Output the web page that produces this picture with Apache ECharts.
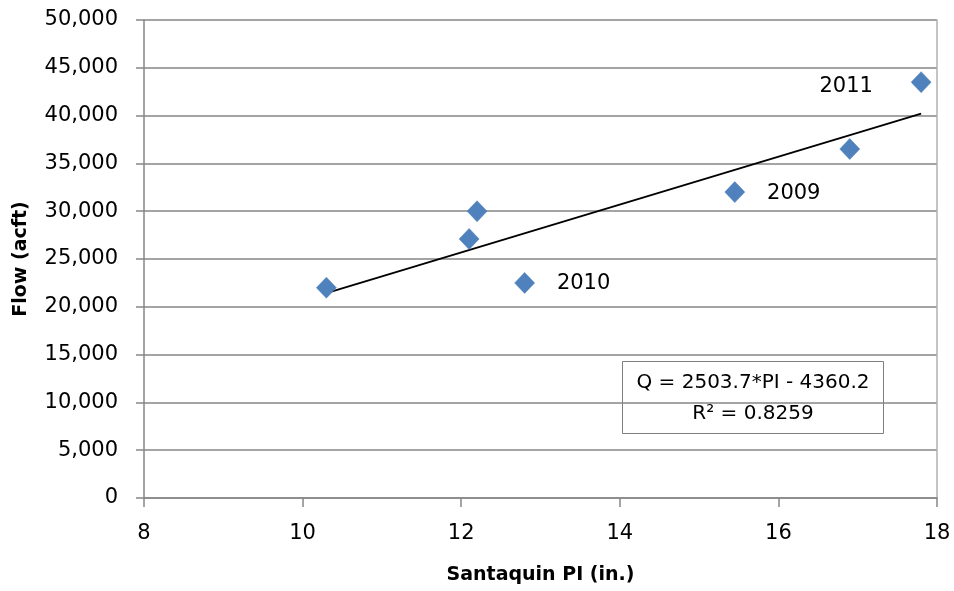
<!DOCTYPE html>
<html>
<head>
<meta charset="utf-8">
<script src="https://cdn.jsdelivr.net/npm/echarts@6/dist/echarts.min.js"></script>
<style>
  html, body { margin: 0; padding: 0; background: #fff; }
  #chart { width: 954px; height: 591px; }
</style>
</head>
<body>
<div id="chart"></div>
<script>
// Observed precipitation index (in.) and flow (acre-feet)
const precipIndex = [10.3, 12.1, 12.2, 12.8, 15.45, 16.9, 17.8];
const flowAcft   = [22000, 27100, 30000, 22500, 32000, 36500, 43500];
const yearLabels = ['', '', '', '2010', '2009', '', '2011'];

// Linear fit reported in the box
const fitSlope = 2503.7;
const fitIntercept = -4360.2;
const fitR2 = 0.8259;

const xTicks = [8, 10, 12, 14, 16, 18];
const yTicks = [0, 5000, 10000, 15000, 20000, 25000, 30000, 35000, 40000, 45000, 50000];

const FONT = 'DejaVu Sans';
const GRAY = '#868686';

const xLo = Math.min(...precipIndex);
const xHi = Math.max(...precipIndex);
const fitLine = [
  [xLo, fitSlope * xLo + fitIntercept],
  [xHi, fitSlope * xHi + fitIntercept]
];

const labelPos = { '2010': 'right', '2009': 'right', '2011': 'left' };
const labelDist = { '2010': 22, '2009': 22, '2011': 38 };

const points = precipIndex.map((x, i) => {
  const yr = yearLabels[i];
  const item = { value: [x, flowAcft[i]] };
  if (yr) {
    item.label = {
      show: true,
      formatter: yr,
      position: labelPos[yr],
      distance: labelDist[yr],
      offset: yr === '2011' ? [0, 4] : [0, 1],
      fontFamily: FONT,
      fontSize: 21,
      color: '#000'
    };
  }
  return item;
});

const chart = echarts.init(document.getElementById('chart'));
chart.setOption({
  animation: false,
  backgroundColor: '#fff',
  grid: { left: 144, right: 17, top: 20, bottom: 93, containLabel: false },
  xAxis: {
    type: 'value',
    min: xTicks[0],
    max: xTicks[xTicks.length - 1],
    interval: 2,
    name: 'Santaquin PI (in.)',
    nameLocation: 'middle',
    nameGap: 68,
    nameTextStyle: { fontFamily: FONT, fontSize: 19, fontWeight: 'bold', color: '#000' },
    axisLine: { show: true, onZero: false, lineStyle: { color: GRAY, width: 1.5 } },
    axisTick: { show: true, inside: false, length: 9, lineStyle: { color: GRAY, width: 1.5 } },
    axisLabel: { fontFamily: FONT, fontSize: 21, color: '#000', margin: 25 },
    splitLine: { show: false }
  },
  yAxis: [{
    type: 'value',
    min: yTicks[0],
    max: yTicks[yTicks.length - 1],
    interval: 5000,
    name: 'Flow (acft)',
    nameLocation: 'middle',
    nameGap: 113,
    nameTextStyle: { fontFamily: FONT, fontSize: 19, fontWeight: 'bold', color: '#000' },
    axisLine: { show: true, lineStyle: { color: GRAY, width: 1.5 } },
    axisTick: { show: true, length: 8, lineStyle: { color: GRAY, width: 1.5 } },
    axisLabel: {
      fontFamily: FONT, fontSize: 21, color: '#000', margin: 26,
      formatter: v => v.toLocaleString('en-US')
    },
    splitLine: { show: true, lineStyle: { color: GRAY, width: 1.5 } }
  }, {
    type: 'value',
    position: 'right',
    min: yTicks[0],
    max: yTicks[yTicks.length - 1],
    interval: 5000,
    axisLine: { show: true, lineStyle: { color: '#b0b0b0', width: 1.5 } },
    axisTick: { show: false },
    axisLabel: { show: false },
    splitLine: { show: false }
  }],
  series: [{
    name: 'Trend',
    type: 'line',
    data: fitLine,
    symbol: 'none',
    lineStyle: { color: '#000', width: 1.8 },
    silent: true,
    z: 2
  }, {
    name: 'Flow',
    type: 'scatter',
    data: points,
    symbol: 'diamond',
    symbolSize: [20, 21],
    itemStyle: { color: '#4F81BD', borderColor: '#4A7EBB', borderWidth: 0.5, opacity: 1 },
    z: 3
  }],
  graphic: [{
    type: 'group',
    left: 622,
    top: 361,
    children: [{
      type: 'rect',
      shape: { x: 0, y: 0, width: 261, height: 72 },
      style: { fill: '#fff', stroke: '#7f7f7f', lineWidth: 1 }
    }, {
      type: 'text',
      x: 130.5, y: 21,
      style: {
        text: 'Q = ' + fitSlope.toFixed(1) + '*PI - ' + Math.abs(fitIntercept).toFixed(1),
        fontFamily: FONT, fontSize: 20, fill: '#000',
        align: 'center', verticalAlign: 'middle'
      }
    }, {
      type: 'text',
      x: 130.5, y: 52,
      style: {
        text: 'R² = ' + fitR2.toFixed(4),
        fontFamily: FONT, fontSize: 20, fill: '#000',
        align: 'center', verticalAlign: 'middle'
      }
    }]
  }]
});
</script>
</body>
</html>
